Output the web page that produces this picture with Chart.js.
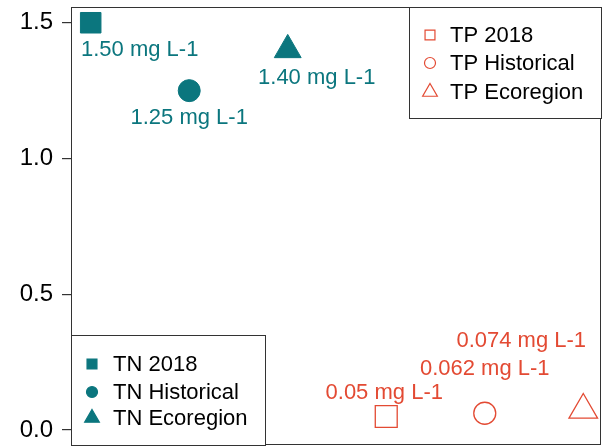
<!DOCTYPE html>
<html>
<head>
<meta charset="utf-8">
<script src="https://cdn.jsdelivr.net/npm/chart.js@4"></script>
<style>
  html, body { margin: 0; padding: 0; background: #fff; }
  #wrap { width: 605px; height: 447px; }
</style>
</head>
<body>
<div id="wrap"><canvas id="c" width="605" height="447"></canvas></div>
<script>
// data
const tnNames = ['TN 2018', 'TN Historical', 'TN Ecoregion'];
const tnX = [1, 2, 3];
const tnValues = [1.50, 1.25, 1.40];
const tnLabels = ['1.50 mg L-1', '1.25 mg L-1', '1.40 mg L-1'];

const tpNames = ['TP 2018', 'TP Historical', 'TP Ecoregion'];
const tpX = [4, 5, 6];
const tpValues = [0.05, 0.062, 0.074];
const tpLabels = ['0.05 mg L-1', '0.062 mg L-1', '0.074 mg L-1'];

const yTicks = [0.0, 0.5, 1.0, 1.5];

const teal = '#0b767e';
const orange = '#e34a33';
const shapes = ['rect', 'circle', 'triangle'];
const radii = [14.5, 11, 15.5];

function toPoints(xs, ys) {
    var pts = [];
    for (var i = 0; i < xs.length; i++) pts.push({x: xs[i], y: ys[i]});
    return pts;
}

// text next to the points, offsets in px from the point
const pointText = {
    id: 'pointText',
    afterDatasetsDraw(chart, args, opts) {
        const ctx = chart.ctx;
        ctx.save();
        ctx.font = '22px "Liberation Sans", Arial, sans-serif';
        ctx.textAlign = 'center';
        ctx.textBaseline = 'middle';
        opts.sets.forEach(function (s) {
            const meta = chart.getDatasetMeta(s.dataset);
            ctx.fillStyle = s.color;
            meta.data.forEach(function (el, i) {
                ctx.fillText(s.labels[i], el.x + s.offsets[i][0], el.y + s.offsets[i][1]);
            });
        });
        ctx.restore();
    }
};

// box round the plot and the two legends inside it
const frameAndLegends = {
    id: 'frameAndLegends',
    afterDraw(chart) {
        const ctx = chart.ctx;
        const a = chart.chartArea;
        ctx.save();
        ctx.strokeStyle = '#333';
        ctx.lineWidth = 1;
        ctx.strokeRect(a.left + 0.5, a.top + 0.5, a.right - a.left - 1, a.bottom - a.top - 1);

        function legend(x0, y0, w, h, names, color, filled, symX, textX, rows, sizes) {
            ctx.fillStyle = '#fff';
            ctx.fillRect(x0, y0, w, h);
            ctx.strokeStyle = '#333';
            ctx.strokeRect(x0 + 0.5, y0 + 0.5, w, h);
            for (var i = 0; i < names.length; i++) {
                ctx.fillStyle = filled ? color : 'rgba(0,0,0,0)';
                ctx.strokeStyle = color;
                ctx.lineWidth = 1.2;
                Chart.helpers.drawPoint(ctx, {pointStyle: shapes[i], radius: sizes[i], rotation: 0, borderWidth: 1.2},
                    x0 + symX, y0 + rows[i]);
                ctx.fillStyle = '#000';
                ctx.font = '22px "Liberation Sans", Arial, sans-serif';
                ctx.textAlign = 'left';
                ctx.textBaseline = 'middle';
                ctx.fillText(names[i], x0 + textX, y0 + rows[i] + 1);
            }
            ctx.lineWidth = 1;
        }
        // TP legend, top right
        legend(a.right - 192, a.top, 192, 111, tpNames, orange, false, 21, 41, [28, 56, 85], [7, 5.5, 8.5]);
        // TN legend, bottom left
        legend(a.left, a.bottom - 110, 194, 110, tnNames, teal, true, 21, 42, [29, 57, 83], [7, 5.5, 8.5]);
        ctx.restore();
    }
};

new Chart(document.getElementById('c'), {
    type: 'scatter',
    data: {
        datasets: [
            {
                label: 'TN',
                data: toPoints(tnX, tnValues),
                pointStyle: shapes,
                pointRadius: radii,
                backgroundColor: teal,
                borderColor: teal,
                borderWidth: 1
            },
            {
                label: 'TP',
                data: toPoints(tpX, tpValues),
                pointStyle: shapes,
                pointRadius: [15.5, 11, 16.5],
                backgroundColor: 'rgba(0,0,0,0)',
                borderColor: orange,
                borderWidth: 1.3
            }
        ]
    },
    options: {
        responsive: false,
        animation: false,
        layout: {autoPadding: false, padding: {left: 0, right: 4, top: 7, bottom: 2}},
        plugins: {
            legend: {display: false},
            tooltip: {enabled: false},
            pointText: {
                sets: [
                    {dataset: 0, labels: tnLabels, color: teal, offsets: [[49, 27], [0, 27], [29, 28]]},
                    {dataset: 1, labels: tpLabels, color: orange, offsets: [[-2, -24], [0, -44], [-62, -69]]}
                ]
            }
        },
        scales: {
            x: {
                type: 'linear',
                display: false,
                min: 0.8,
                max: 6.18
            },
            y: {
                type: 'linear',
                min: -0.055,
                max: 1.558,
                afterFit(scale) {
                    scale.width = 71;
                    scale.paddingTop = 0;
                    scale.paddingBottom = 0;
                },
                afterBuildTicks(scale) {
                    scale.ticks = yTicks.map(function (v) { return {value: v}; });
                },
                border: {display: false},
                grid: {
                    drawOnChartArea: false,
                    tickLength: 9,
                    color: '#333',
                    lineWidth: 1.2
                },
                ticks: {
                    color: '#000',
                    padding: 9,
                    font: {family: '"Liberation Sans", Arial, sans-serif', size: 24},
                    callback: function (v) { return v.toFixed(1); }
                }
            }
        }
    },
    plugins: [pointText, frameAndLegends]
});
</script>
</body>
</html>
